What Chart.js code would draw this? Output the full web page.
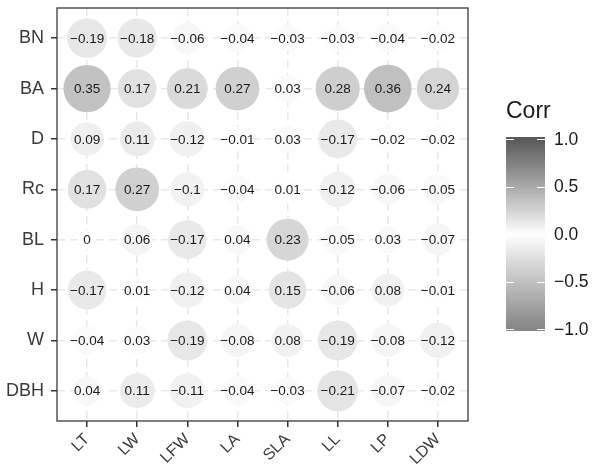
<!DOCTYPE html>
<html>
<head>
<meta charset="utf-8">
<script src="https://cdn.jsdelivr.net/npm/chart.js@4"></script>
<style>
  body { margin: 0; background: #fff; }
  #wrap { width: 596px; height: 473px; }
</style>
</head>
<body>
<div id="wrap"><canvas id="corrChart"></canvas></div>
<script>
const rowLabels = ["BN", "BA", "D", "Rc", "BL", "H", "W", "DBH"];
const colLabels = ["LT", "LW", "LFW", "LA", "SLA", "LL", "LP", "LDW"];

const corrBN  = [-0.19, -0.18, -0.06, -0.04, -0.03, -0.03, -0.04, -0.02];
const corrBA  = [0.35, 0.17, 0.21, 0.27, 0.03, 0.28, 0.36, 0.24];
const corrD   = [0.09, 0.11, -0.12, -0.01, 0.03, -0.17, -0.02, -0.02];
const corrRc  = [0.17, 0.27, -0.1, -0.04, 0.01, -0.12, -0.06, -0.05];
const corrBL  = [0, 0.06, -0.17, 0.04, 0.23, -0.05, 0.03, -0.07];
const corrH   = [-0.17, 0.01, -0.12, 0.04, 0.15, -0.06, 0.08, -0.01];
const corrW   = [-0.04, 0.03, -0.19, -0.08, 0.08, -0.19, -0.08, -0.12];
const corrDBH = [0.04, 0.11, -0.11, -0.04, -0.03, -0.21, -0.07, -0.02];

const corrRows = [corrBN, corrBA, corrD, corrRc, corrBL, corrH, corrW, corrDBH];
const legendTicks = [1.0, 0.5, 0.0, -0.5, -1.0];

// grey gradient (low / mid / high), interpolated on Lab lightness
function grayToL(g) {
  let c = g / 255;
  c = c <= 0.04045 ? c / 12.92 : Math.pow((c + 0.055) / 1.055, 2.4);
  return 116 * Math.cbrt(c) - 16;
}
function lToGray(L) {
  let y = L > 8 ? Math.pow((L + 16) / 116, 3) : L / 903.3;
  let c = y <= 0.0031308 ? 12.92 * y : 1.055 * Math.pow(y, 1 / 2.4) - 0.055;
  return Math.round(Math.max(0, Math.min(1, c)) * 255);
}
const lowL = grayToL(0x86), midL = 100, highL = grayToL(0x5a);
function corrColor(v) {
  const L = v >= 0 ? midL + (highL - midL) * v : midL + (lowL - midL) * (-v);
  const g = lToGray(L);
  return `rgb(${g},${g},${g})`;
}

const maxAbs = Math.max(...corrRows.flat().map(Math.abs));
function corrRadius(v) {
  return 23.8 * (0.4 + 0.6 * Math.sqrt(Math.abs(v) / maxAbs));
}

function fmt(v) {
  const s = String(Math.abs(v));
  return v < 0 ? "\u2212" + s : s;
}

const points = [];
corrRows.forEach((row, r) => {
  row.forEach((v, c) => points.push({ x: c, y: r, v: v }));
});

const labelPlugin = {
  id: "cellLabels",
  afterDatasetsDraw(chart) {
    const ctx = chart.ctx;
    const meta = chart.getDatasetMeta(0);
    ctx.save();
    ctx.font = "13.5px 'Liberation Sans', Arial, sans-serif";
    ctx.fillStyle = "#1a1a1a";
    ctx.textAlign = "center";
    ctx.textBaseline = "middle";
    meta.data.forEach((el, i) => {
      ctx.fillText(fmt(points[i].v), el.x, el.y + 1);
    });
    // panel border
    const a = chart.chartArea;
    ctx.strokeStyle = "#3a3a3a";
    ctx.lineWidth = 1.3;
    ctx.strokeRect(a.left, a.top, a.right - a.left, a.bottom - a.top);
    ctx.restore();
  }
};

const colorbarPlugin = {
  id: "colorbar",
  afterDraw(chart) {
    const ctx = chart.ctx;
    const x0 = 506, x1 = 545, top = 137, bottom = 331;
    const yFor = v => 139 + (1 - v) / 2 * (329 - 139);
    ctx.save();
    for (let y = top; y < bottom; y++) {
      const v = 1 - ((y + 0.5 - 139) / (329 - 139)) * 2;
      ctx.fillStyle = corrColor(Math.max(-1, Math.min(1, v)));
      ctx.fillRect(x0, y, x1 - x0, 1);
    }
    ctx.strokeStyle = "#ffffff";
    ctx.lineWidth = 1;
    ctx.font = "17.5px 'Liberation Sans', Arial, sans-serif";
    ctx.fillStyle = "#1a1a1a";
    ctx.textBaseline = "middle";
    ctx.textAlign = "left";
    legendTicks.forEach(v => {
      const y = Math.round(yFor(v)) + 0.5;
      ctx.beginPath();
      ctx.moveTo(x0, y); ctx.lineTo(x0 + 8, y);
      ctx.moveTo(x1 - 8, y); ctx.lineTo(x1, y);
      ctx.stroke();
      ctx.fillText(v.toFixed(1).replace("-", "\u2212"), 554, yFor(v) + 1);
    });
    ctx.font = "23px 'Liberation Sans', Arial, sans-serif";
    ctx.fillText("Corr", 506, 112);
    ctx.restore();
  }
};

new Chart(document.getElementById("corrChart"), {
  type: "bubble",
  data: {
    datasets: [{
      data: points,
      backgroundColor: ctx => corrColor(points[ctx.dataIndex].v),
      borderWidth: 0,
      radius: ctx => corrRadius(points[ctx.dataIndex].v),
      hoverRadius: 0
    }]
  },
  options: {
    responsive: true,
    maintainAspectRatio: false,
    animation: false,
    layout: { autoPadding: false, padding: { top: 8, right: 128, bottom: 0, left: 0 } },
    plugins: { legend: { display: false }, tooltip: { enabled: false } },
    scales: {
      x: {
        type: "linear",
        min: -0.6,
        max: 7.6,
        afterBuildTicks: s => { s.ticks = colLabels.map((_, i) => ({ value: i })); },
        afterFit: s => { s.height = 52; s.paddingLeft = 0; s.paddingRight = 0; },
        ticks: {
          autoSkip: false,
          minRotation: 45,
          maxRotation: 45,
          padding: 3,
          color: "#3a3a3a",
          font: { family: "'Liberation Sans', Arial, sans-serif", size: 16 },
          callback: v => colLabels[v]
        },
        grid: { color: "#e8e8e8", lineWidth: 1.5, tickLength: 6, tickColor: "#333", tickWidth: 1.5 },
        border: { display: false, dash: [8, 5] }
      },
      y: {
        type: "linear",
        reverse: true,
        min: -0.6,
        max: 7.6,
        afterBuildTicks: s => { s.ticks = rowLabels.map((_, i) => ({ value: i })); },
        afterFit: s => { s.width = 57; s.paddingTop = 0; s.paddingBottom = 0; },
        ticks: {
          padding: 7,
          color: "#3a3a3a",
          font: { family: "'Liberation Sans', Arial, sans-serif", size: 18 },
          callback: v => rowLabels[v]
        },
        grid: { color: "#e8e8e8", lineWidth: 1.5, tickLength: 6, tickColor: "#333", tickWidth: 1.5 },
        border: { display: false, dash: [8, 5] }
      }
    }
  },
  plugins: [labelPlugin, colorbarPlugin]
});
</script>
</body>
</html>
